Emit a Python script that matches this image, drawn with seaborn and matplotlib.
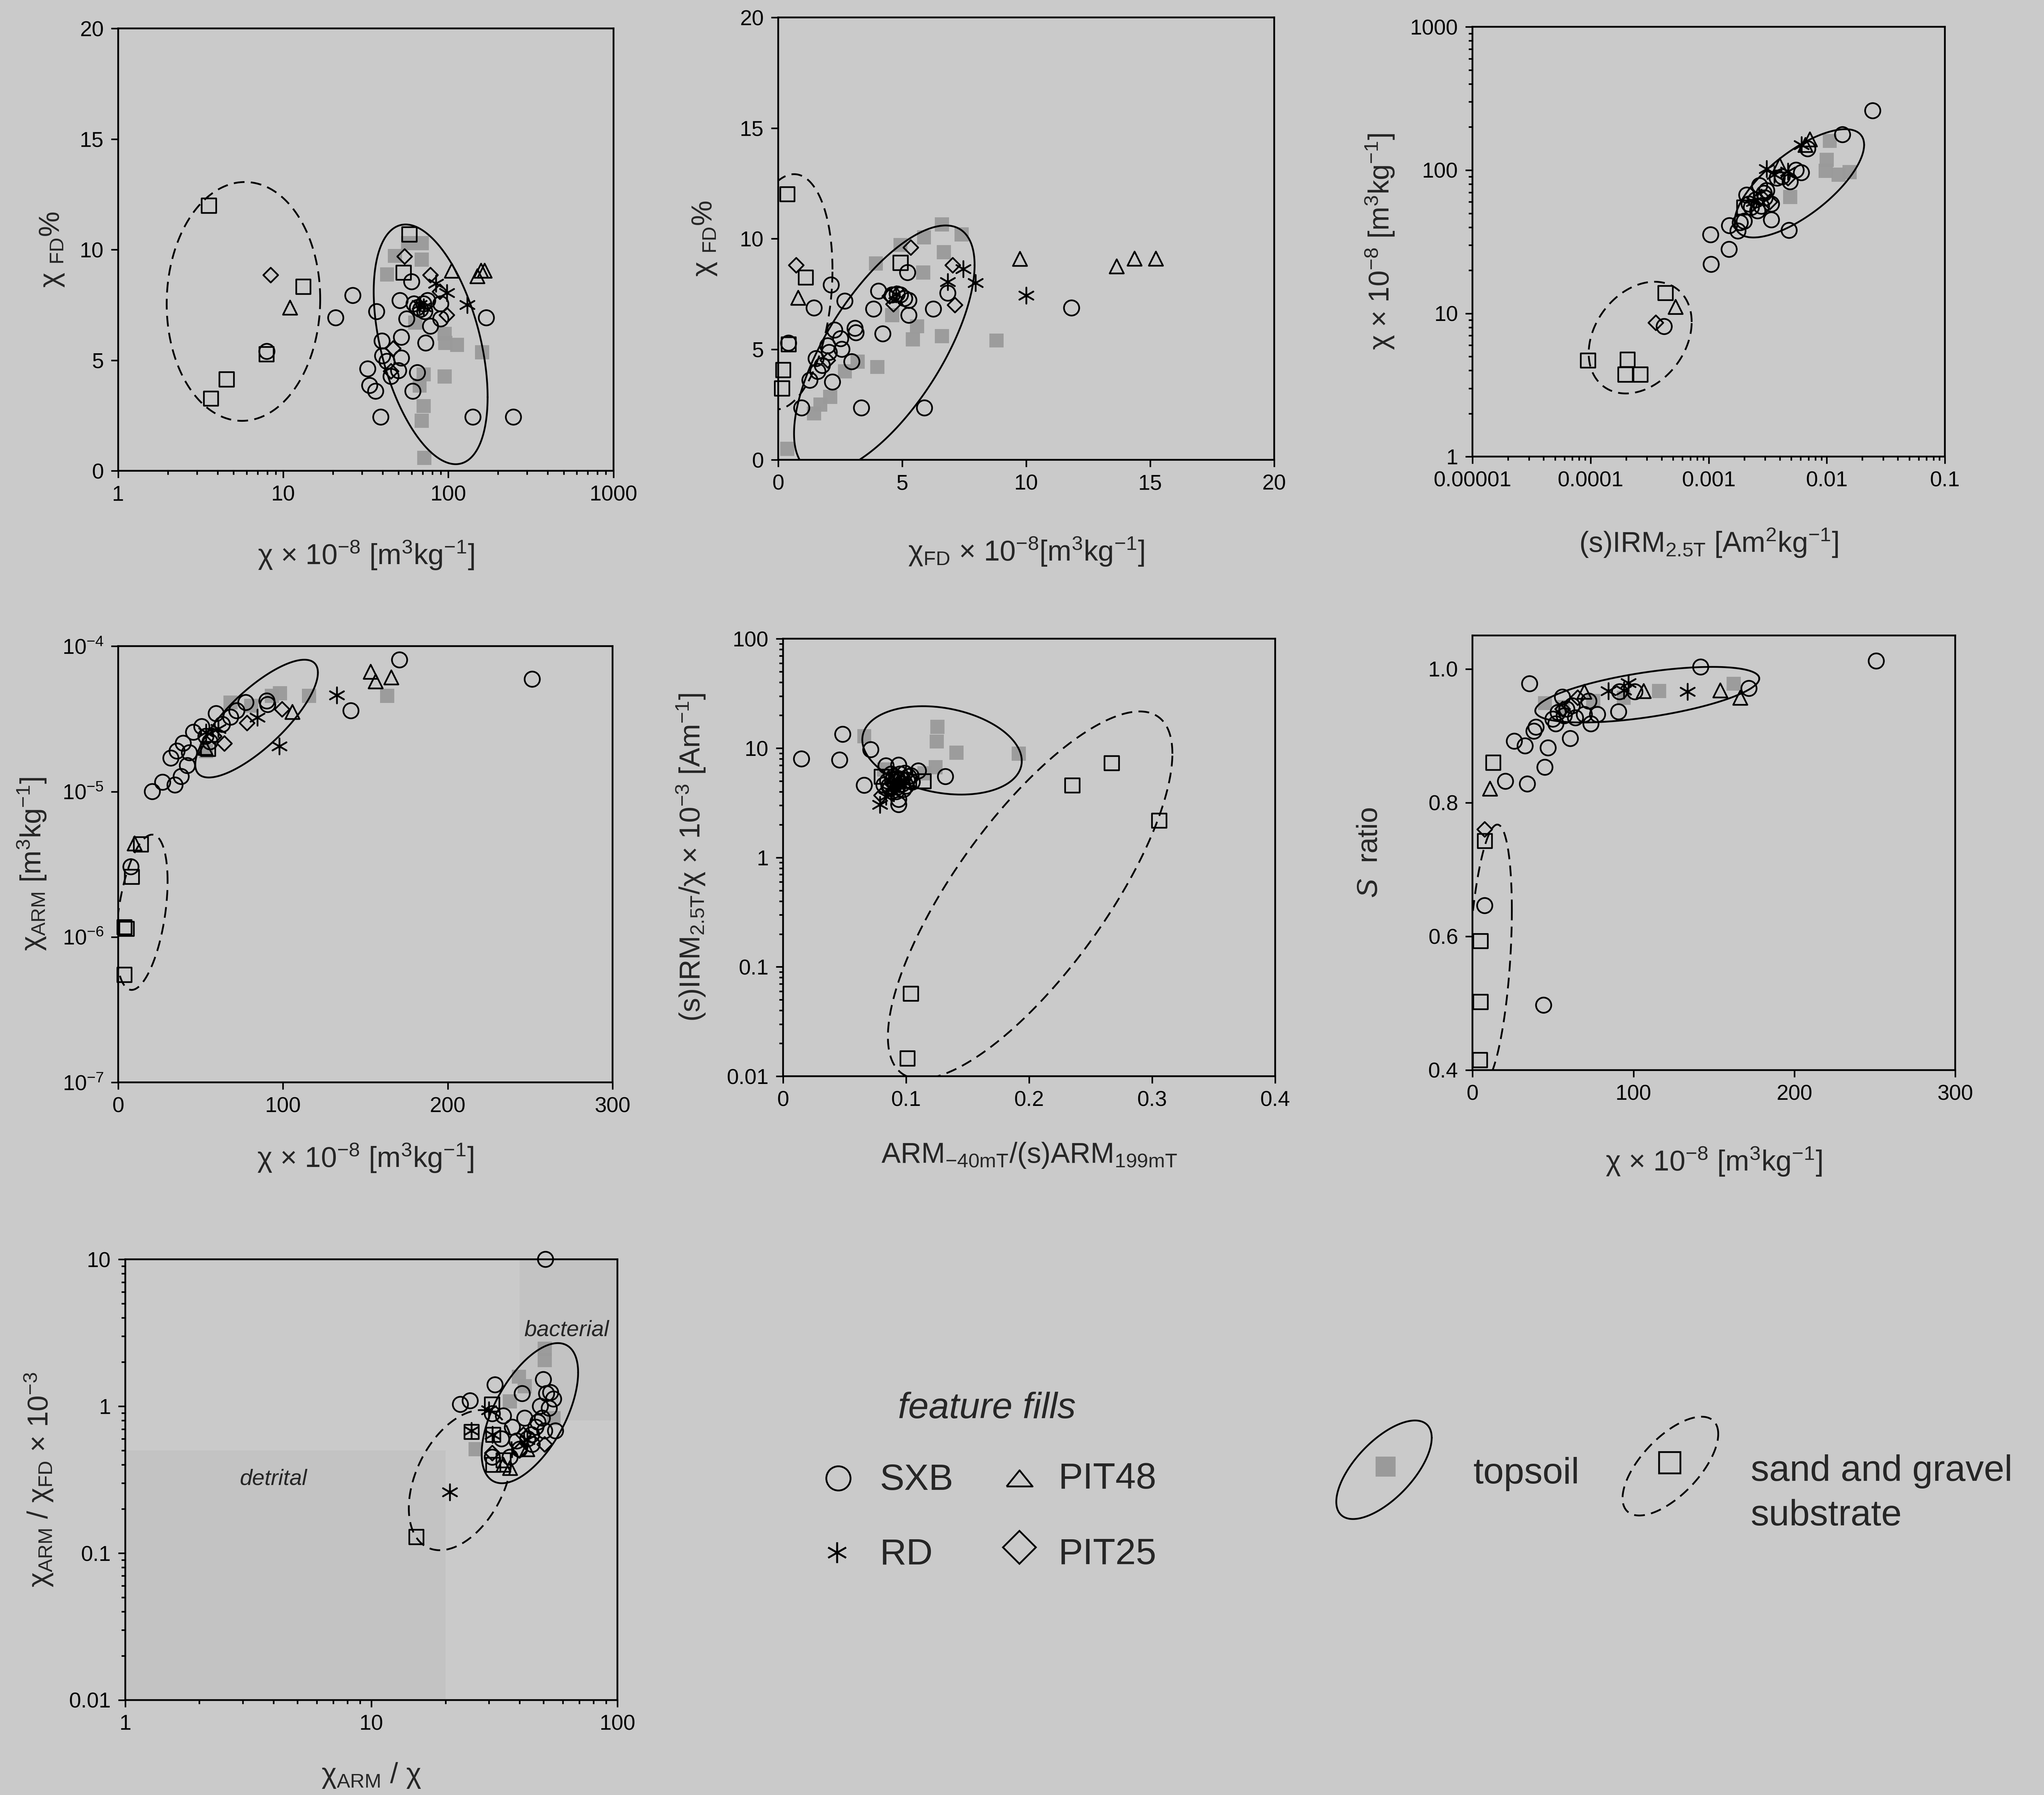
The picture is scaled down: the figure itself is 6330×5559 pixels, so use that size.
import numpy as np
import pandas as pd
import matplotlib
matplotlib.use('Agg')
import matplotlib.pyplot as plt
import matplotlib.ticker as mticker
from matplotlib.path import Path
import seaborn as sns

sns.set_style('ticks')
plt.rcParams['font.family'] = ['Liberation Sans', 'DejaVu Sans']
plt.rcParams['mathtext.fontset'] = 'custom'
plt.rcParams['mathtext.rm'] = 'Liberation Sans'
plt.rcParams['mathtext.it'] = 'Liberation Sans:italic'
plt.rcParams['mathtext.bf'] = 'Liberation Sans:bold'

BG = '#cacaca'
SHADE = '#c3c3c3'
GREY = '#9a9a9a'

# ---- data: (x, y) per sample group and panel ----
# panel 1: chi vs chiFD%
P1_SXB = [(7.96, 5.4), (20.8, 6.92), (26.4, 7.93), (36.8, 7.2), (32.5, 4.61), (33.4, 3.86), (36.3, 3.6),
          (39.0, 2.43), (39.7, 5.87), (40, 5.2), (42.5, 4.95), (45, 4.27), (50, 4.53), (52, 6.04), (52, 5.1),
          (51, 7.7), (56, 6.87), (60, 8.55), (61, 3.6), (65, 4.44), (65, 7.38), (73, 5.78), (78, 6.54),
          (90, 7.55), (90, 6.87), (141, 2.43), (170, 6.92), (248, 2.43), (62, 7.55), (71, 7.55), (75, 7.7),
          (68, 7.3), (72, 7.2)]
P1_RD = [(130, 7.5), (98, 8.05), (84, 8.47), (67, 7.5), (71, 7.4)]
P1_PIT48 = [(11.0, 7.38), (105, 9.05), (150, 8.8), (158, 9.05), (166, 9.05)]
P1_PIT25 = [(8.4, 8.85), (54.4, 9.69), (78, 8.85), (98, 7.04), (46.4, 5.53), (45, 4.5), (89, 8.1)]
P1_SAND = [(3.54, 12.0), (13.2, 8.33), (7.9, 5.28), (4.53, 4.14), (3.64, 3.27), (53.5, 8.97), (58, 10.7)]
P1_TOP = [(71.5, 0.59), (69, 2.26), (71, 2.93), (67, 3.86), (71, 4.36), (95, 4.27), (96, 5.78), (113, 5.7),
          (160, 5.36), (95, 6.2), (57, 10.3), (69, 10.3), (69, 9.55), (42.5, 8.88), (47.5, 9.72), (63, 6.7)]

# panel 2: chiFD vs chiFD%
P2_SXB = [(0.42, 5.28), (2.14, 7.91), (1.45, 6.87), (2.69, 7.18), (3.85, 6.82), (4.05, 7.63), (0.95, 2.35),
          (1.28, 3.6), (1.53, 4.58), (1.6, 4.0), (2.0, 5.16), (2.06, 4.86), (2.19, 3.52), (2.28, 5.87),
          (2.52, 5.48), (2.57, 5.0), (2.97, 4.44), (3.1, 5.95), (3.14, 5.75), (3.36, 2.35), (4.22, 5.7),
          (4.6, 7.46), (4.93, 7.46), (5.22, 8.47), (5.27, 6.54), (5.27, 7.21), (6.26, 6.82), (6.84, 7.54),
          (5.9, 2.35), (11.83, 6.87), (1.78, 4.27), (4.8, 7.5), (5.1, 7.3)]
P2_RD = [(10.0, 7.43), (7.96, 8.0), (7.46, 8.63), (6.84, 8.05), (4.75, 7.5)]
P2_PIT48 = [(0.81, 7.33), (9.75, 9.09), (13.65, 8.75), (14.37, 9.1), (15.23, 9.1)]
P2_PIT25 = [(0.73, 8.8), (5.35, 9.6), (7.04, 8.8), (7.13, 7.0), (4.65, 7.04), (2.0, 4.5), (4.5, 7.4)]
P2_SAND = [(0.37, 12.02), (1.11, 8.25), (0.42, 5.23), (0.2, 4.07), (0.15, 3.24), (4.93, 8.92)]
P2_TOP = [(0.37, 0.5), (1.45, 2.1), (1.7, 2.5), (2.1, 2.85), (2.69, 4.0), (3.2, 4.44), (4.0, 4.2), (3.94, 8.88),
          (5.43, 5.45), (5.6, 6.04), (6.6, 5.6), (5.85, 8.47), (5.88, 10.06), (6.6, 10.65), (6.68, 9.39),
          (7.4, 10.2), (8.8, 5.4), (4.93, 9.72), (4.6, 6.54)]

# panel 3: (s)IRM vs chi
P3_SXB = [(4.2e-4, 8.1), (1.04e-3, 35.4), (1.49e-3, 28), (1.05e-3, 22), (1.5e-3, 41), (1.77e-3, 37.6),
          (2.1e-3, 67), (3.4e-3, 45), (4.8e-3, 38), (1.36e-2, 177), (2.45e-2, 260), (6.1e-3, 96), (4.9e-3, 83),
          (3.8e-3, 88), (2.95e-3, 69), (2.5e-3, 62), (3.4e-3, 58), (6.9e-3, 141), (2.7e-3, 78), (2.3e-3, 55),
          (1.85e-3, 43), (2.0e-3, 44), (2.6e-3, 52), (3.1e-3, 72), (4.2e-3, 90), (5.5e-3, 100),
          (2.2e-3, 58), (2.8e-3, 56), (3.0e-3, 64)]
P3_RD = [(3.1e-3, 102), (6.1e-3, 150), (3.6e-3, 93), (4.7e-3, 98), (2.4e-3, 60)]
P3_PIT48 = [(5.25e-4, 11.1), (7.2e-3, 164), (6.6e-3, 150), (4.0e-3, 108)]
P3_PIT25 = [(3.57e-4, 8.6), (4.7e-3, 88), (2.8e-3, 65), (3.3e-3, 60)]
P3_SAND = [(9.5e-5, 4.7), (2.05e-4, 4.76), (1.97e-4, 3.75), (2.64e-4, 3.75), (4.3e-4, 13.9), (2.0e-3, 55)]
P3_TOP = [(1.06e-2, 160), (9.8e-3, 99), (1.56e-2, 97), (1.0e-2, 118), (4.9e-3, 65), (1.26e-2, 93)]

# panel 4: chi vs chiARM
P4_SXB = [(7.75, 3.04e-6), (20.75, 1.0e-5), (27, 1.16e-5), (34.5, 1.11e-5), (38.25, 1.27e-5), (42, 1.51e-5),
          (32, 1.7e-5), (35.75, 1.9e-5), (39.5, 2.15e-5), (45.75, 2.56e-5), (50.75, 2.8e-5), (59.5, 3.44e-5),
          (68.25, 3.25e-5), (72, 3.6e-5), (77.5, 4.1e-5), (90.25, 4.2e-5), (90.75, 3.97e-5), (141.25, 3.6e-5),
          (170.75, 8.05e-5), (251.25, 5.93e-5), (53.25, 2.4e-5), (63.25, 2.9e-5), (43.25, 1.85e-5),
          (55.75, 2.2e-5)]
P4_RD = [(97.75, 2.05e-5), (132.75, 4.6e-5), (84.5, 3.24e-5), (60.75, 2.7e-5), (53.25, 2.55e-5)]
P4_PIT48 = [(10, 4.4e-6), (105.75, 3.53e-5), (153.25, 6.67e-5), (156.25, 5.73e-5), (165.75, 6.1e-5),
            (53, 2.0e-5)]
P4_PIT25 = [(64.5, 2.14e-5), (99.5, 3.68e-5), (78.25, 2.96e-5), (58.25, 2.4e-5)]
P4_SAND = [(3.75, 5.5e-7), (3.75, 1.17e-6), (5, 1.14e-6), (8.25, 2.6e-6), (13.75, 4.35e-6), (54.5, 1.97e-5)]
P4_TOP = [(163.25, 4.55e-5), (115.75, 4.55e-5), (98.25, 4.75e-5), (93.25, 4.55e-5), (68.25, 4.1e-5),
          (53.25, 1.9e-5), (80.75, 3.9e-5)]

# panel 5: ARM ratio vs (s)IRM/chi
P5_SXB = [(0.015, 7.98), (0.046, 7.8), (0.0485, 13.4), (0.0713, 9.7), (0.066, 4.58), (0.132, 5.5),
          (0.0837, 6.9), (0.094, 7.0), (0.11, 6.2), (0.094, 3.05), (0.094, 3.4), (0.087, 4.3), (0.097, 4.7),
          (0.102, 5.5), (0.090, 5.5), (0.085, 5.0), (0.092, 4.0), (0.1, 4.5), (0.088, 5.8), (0.096, 5.2),
          (0.082, 4.6), (0.105, 4.9), (0.091, 4.9), (0.093, 5.3), (0.098, 4.2), (0.086, 4.5), (0.095, 5.8),
          (0.101, 5.1), (0.089, 5.1), (0.099, 5.9), (0.093, 4.4), (0.104, 5.6)]
P5_RD = [(0.0787, 3.05), (0.0837, 3.6), (0.0887, 4.3), (0.095, 4.8), (0.09, 3.9), (0.092, 4.6)]
P5_PIT48 = [(0.092, 5.1), (0.102, 5.0)]
P5_PIT25 = [(0.08, 3.7), (0.089, 4.7)]
P5_SAND = [(0.267, 7.32), (0.235, 4.58), (0.3056, 2.18), (0.1038, 0.057), (0.101, 0.0146), (0.080, 5.5),
           (0.114, 5.0)]
P5_TOP = [(0.066, 12.9), (0.1255, 15.7), (0.125, 11.5), (0.141, 9.1), (0.1915, 8.9), (0.124, 6.7),
          (0.082, 6.4), (0.115, 5.9)]

# panel 6: chi vs S ratio
P6_SXB = [(7.6, 0.646), (44.2, 0.497), (35.5, 0.978), (141.8, 1.003), (250.9, 1.012), (20.5, 0.832),
          (34.1, 0.828), (45, 0.853), (26, 0.892), (32.7, 0.885), (47, 0.882), (38.2, 0.907), (39.5, 0.913),
          (51.8, 0.918), (60.8, 0.896), (73.6, 0.918), (77.7, 0.932), (90.8, 0.936), (171.8, 0.971),
          (55.9, 0.958), (72.3, 0.952), (58.6, 0.94), (64, 0.927), (53.2, 0.935), (69.5, 0.932),
          (91.4, 0.966), (100.9, 0.966), (50, 0.925), (62, 0.945), (57, 0.93)]
P6_RD = [(133.6, 0.966), (84.5, 0.967), (96.8, 0.979), (94, 0.968)]
P6_PIT48 = [(10.9, 0.821), (106.4, 0.967), (154, 0.968), (166.4, 0.957), (69.5, 0.966)]
P6_PIT25 = [(7.6, 0.76), (65.4, 0.957), (56, 0.94)]
P6_SAND = [(4.6, 0.415), (4.9, 0.502), (4.9, 0.593), (7.6, 0.743), (12.8, 0.86)]
P6_TOP = [(115.9, 0.967), (162.3, 0.978), (45, 0.949), (94, 0.957), (75, 0.952), (56, 0.943)]

# panel 7: chiARM/chi vs chiARM/chiFD
P7_SXB = [(51, 10.0), (23, 1.03), (25.2, 1.09), (31.8, 1.40), (41, 1.22), (50, 1.52), (51.5, 1.22),
          (53.5, 1.24), (55, 1.12), (31, 0.89), (34.4, 0.86), (42, 0.83), (49.5, 0.83), (50.6, 0.68),
          (44.8, 0.64), (37.4, 0.72), (48.6, 1.0), (52.8, 0.97), (56, 0.68), (33.8, 0.6), (36.6, 0.45),
          (31, 0.45), (40, 0.51), (43.2, 0.6), (46.6, 0.72), (45, 0.55), (47.5, 0.78), (39, 0.58)]
P7_RD = [(20.8, 0.26), (25.5, 0.68), (31, 0.64), (30, 0.94), (43, 0.59)]
P7_PIT48 = [(34.4, 0.4), (36.6, 0.38), (43, 0.51)]
P7_PIT25 = [(50.6, 0.55), (31, 0.48), (40, 0.5), (41.5, 0.64)]
P7_SAND = [(15.2, 0.129), (25.5, 0.67), (30.9, 1.03), (31.2, 0.64), (31.2, 0.4), (34.4, 0.43)]
P7_TOP = [(50.6, 2.46), (50.6, 2.06), (39.8, 1.59), (42, 1.37), (55, 0.83), (26.5, 0.51), (36.5, 1.08)]

DETRITAL = (1, 20, 0.01, 0.5)      # x0, x1, y0, y1
BACTERIAL = (40, 100, 0.8, 10)

SERIES = {
    1: {'topsoil': P1_TOP, 'sand': P1_SAND, 'SXB': P1_SXB, 'RD': P1_RD, 'PIT48': P1_PIT48, 'PIT25': P1_PIT25},
    2: {'topsoil': P2_TOP, 'sand': P2_SAND, 'SXB': P2_SXB, 'RD': P2_RD, 'PIT48': P2_PIT48, 'PIT25': P2_PIT25},
    3: {'topsoil': P3_TOP, 'sand': P3_SAND, 'SXB': P3_SXB, 'RD': P3_RD, 'PIT48': P3_PIT48, 'PIT25': P3_PIT25},
    4: {'topsoil': P4_TOP, 'sand': P4_SAND, 'SXB': P4_SXB, 'RD': P4_RD, 'PIT48': P4_PIT48, 'PIT25': P4_PIT25},
    5: {'topsoil': P5_TOP, 'sand': P5_SAND, 'SXB': P5_SXB, 'RD': P5_RD, 'PIT48': P5_PIT48, 'PIT25': P5_PIT25},
    6: {'topsoil': P6_TOP, 'sand': P6_SAND, 'SXB': P6_SXB, 'RD': P6_RD, 'PIT48': P6_PIT48, 'PIT25': P6_PIT25},
    7: {'topsoil': P7_TOP, 'sand': P7_SAND, 'SXB': P7_SXB, 'RD': P7_RD, 'PIT48': P7_PIT48, 'PIT25': P7_PIT25},
}

frames = []
for pid, groups in SERIES.items():
    for grp, pts in groups.items():
        arr = np.asarray(pts, dtype=float)
        frames.append(pd.DataFrame({'panel': pid, 'group': grp, 'x': arr[:, 0], 'y': arr[:, 1]}))
df = pd.concat(frames, ignore_index=True)

LW = 0.95
STYLE = {
    'topsoil': dict(marker='s', s=62, color=GREY, edgecolor='none', linewidth=0, alpha=0.95),
    'sand': dict(marker='s', s=64, facecolor='none', edgecolor='k', linewidth=LW),
    'SXB': dict(marker='o', s=72, facecolor='none', edgecolor='k', linewidth=LW),
    'RD': dict(marker=(6, 2, 0), s=80, color='k', linewidth=LW),
    'PIT48': dict(marker='^', s=62, facecolor='none', edgecolor='k', linewidth=LW),
    'PIT25': dict(marker='D', s=34, facecolor='none', edgecolor='k', linewidth=LW),
}

CHI = 'χ × 10$^{-8}$ [m$^{3}$kg$^{-1}$]'
CHIFD_PCT = 'χ $_{\\mathrm{FD}}$%'

AXES = {
    1: dict(rect=[0.0578, 0.7377, 0.2423, 0.2464], xs='log', ys='linear', xlim=(1, 1000), ylim=(0, 20),
            xt=[1, 10, 100, 1000], yt=[0, 5, 10, 15, 20], xl=CHI, yl=CHIFD_PCT, xp=19, yp=8),
    2: dict(rect=[0.3807, 0.7438, 0.2427, 0.2464], xs='linear', ys='linear', xlim=(0, 20), ylim=(0, 20),
            xt=[0, 5, 10, 15, 20], yt=[0, 5, 10, 15, 20],
            xl='χ$_{\\mathrm{FD}}$ × 10$^{-8}$[m$^{3}$kg$^{-1}$]', yl=CHIFD_PCT, xp=23, yp=12),
    3: dict(rect=[0.7204, 0.7456, 0.2311, 0.2394], xs='log', ys='log', xlim=(1e-5, 0.1), ylim=(1, 1000),
            xt=[1e-5, 1e-4, 1e-3, 1e-2, 1e-1], yt=[1, 10, 100, 1000],
            xl='(s)IRM$_{\\mathrm{2.5T}}$ [Am$^{2}$kg$^{-1}$]', yl=CHI, xp=20, yp=8),
    4: dict(rect=[0.0578, 0.3970, 0.2419, 0.2430], xs='linear', ys='log', xlim=(0, 300), ylim=(1e-7, 1e-4),
            xt=[0, 100, 200, 300], yt=[1e-7, 1e-6, 1e-5, 1e-4], xl=CHI,
            yl='χ$_{\\mathrm{ARM}}$ [m$^{3}$kg$^{-1}$]', xp=14, yp=8),
    5: dict(rect=[0.3831, 0.4004, 0.2408, 0.2437], xs='linear', ys='log', xlim=(0, 0.4), ylim=(0.01, 100),
            xt=[0, 0.1, 0.2, 0.3, 0.4], yt=[0.01, 0.1, 1, 10, 100],
            xl='ARM$_{\\mathrm{-40mT}}$/(s)ARM$_{\\mathrm{199mT}}$',
            yl='(s)IRM$_{\\mathrm{2.5T}}$/χ × 10$^{-3}$ [Am$^{-1}$]', xp=17, yp=11),
    6: dict(rect=[0.7204, 0.4039, 0.2362, 0.2420], xs='linear', ys='linear', xlim=(0, 300), ylim=(0.4, 1.05),
            xt=[0, 100, 200, 300], yt=[0.4, 0.6, 0.8, 1.0], xl=CHI, yl='$\\mathit{S}$  ratio', xp=23, yp=25),
    7: dict(rect=[0.0613, 0.0529, 0.2408, 0.2455], xs='log', ys='log', xlim=(1, 100), ylim=(0.01, 10),
            xt=[1, 10, 100], yt=[0.01, 0.1, 1, 10], xl='χ$_{\\mathrm{ARM}}$ / χ',
            yl='χ$_{\\mathrm{ARM}}$ / χ$_{\\mathrm{FD}}$ × 10$^{-3}$', xp=15, yp=8),
}

# group outlines in axes fraction: cx, cy, half-width, half-height, tilt, style
RINGS = {
    1: [(0.253, 0.383, 0.155, 0.270, 0.02, 'dash'), (0.631, 0.286, 0.115, 0.271, -0.44, 'solid')],
    2: [(0.014, 0.380, 0.0955, 0.266, 0.19, 'dash'), (0.214, 0.250, 0.182, 0.280, 0.68, 'solid')],
    3: [(0.355, 0.277, 0.109, 0.130, 0.28, 'dash'), (0.692, 0.636, 0.137, 0.126, 0.71, 'solid')],
    4: [(0.048, 0.390, 0.052, 0.178, 0.40, 'dash'), (0.280, 0.834, 0.124, 0.135, 0.78, 'solid')],
    5: [(0.502, 0.414, 0.289, 0.420, 0.77, 'dash'), (0.323, 0.745, 0.162, 0.101, -0.24, 'solid')],
    6: [(0.036, 0.266, 0.0455, 0.299, 0.34, 'dash'), (0.362, 0.864, 0.232, 0.064, 0.58, 'solid')],
    7: [(0.681, 0.499, 0.105, 0.159, 0.40, 'dash'), (0.822, 0.651, 0.098, 0.159, 0.58, 'solid')],
}
DASH = (0, (6, 3.5))


def ring(ax, cx, cy, hx, hy, rho, style, transform, clip=True):
    t = np.linspace(0, 2 * np.pi, 400)
    d = np.arccos(rho)
    ls = DASH if style == 'dash' else '-'
    ax.plot(cx + hx * np.cos(t), cy + hy * np.cos(t - d), color='k', lw=1.0, ls=ls,
            transform=transform, clip_on=clip, zorder=4)


plain = mticker.FuncFormatter(lambda v, p: np.format_float_positional(v, trim='-'))

fig = plt.figure(figsize=(15.825, 13.8975), dpi=400, facecolor=BG)

for pid, cfg in AXES.items():
    ax = fig.add_axes(cfg['rect'])
    ax.set_facecolor(BG)
    ax.set_xscale(cfg['xs'])
    ax.set_yscale(cfg['ys'])

    if pid == 7:
        for x0, x1, y0, y1 in (DETRITAL, BACTERIAL):
            ax.fill_between([x0, x1], y0, y1, color=SHADE, lw=0, zorder=0)
        ax.text(4.0, 0.32, 'detrital', style='italic', fontsize=12.5, ha='center', va='center')
        ax.text(62, 3.3, 'bacterial', style='italic', fontsize=12.5, ha='center', va='center')

    sub = df[df['panel'] == pid]
    for grp in ['topsoil', 'SXB', 'PIT25', 'PIT48', 'RD', 'sand']:
        g = sub[sub['group'] == grp]
        sns.scatterplot(data=g, x='x', y='y', ax=ax, legend=False, clip_on=False, zorder=3, **STYLE[grp])

    for r in RINGS[pid]:
        ring(ax, *r, transform=ax.transAxes)

    ax.set_xlim(*cfg['xlim'])
    ax.set_ylim(*cfg['ylim'])
    ax.set_xticks(cfg['xt'])
    ax.set_yticks(cfg['yt'])
    ax.xaxis.set_minor_formatter(mticker.NullFormatter())
    ax.yaxis.set_minor_formatter(mticker.NullFormatter())
    if cfg['xs'] == 'log':
        ax.xaxis.set_major_formatter(plain)
    else:
        ax.xaxis.set_major_formatter(mticker.FuncFormatter(lambda v, p: f'{v:g}'))
    if cfg['ys'] == 'log':
        if pid == 4:
            ax.yaxis.set_minor_locator(mticker.NullLocator())
        else:
            ax.yaxis.set_major_formatter(plain)
    elif pid == 6:
        ax.yaxis.set_major_formatter(mticker.FormatStrFormatter('%.1f'))

    ax.tick_params(which='both', direction='out', top=False, right=False, width=0.9, colors='k')
    ax.tick_params(which='major', length=4, labelsize=12, pad=4)
    ax.tick_params(which='minor', length=2.2)
    for sp in ax.spines.values():
        sp.set_linewidth(1.0)
        sp.set_color('k')
    ax.set_xlabel(cfg['xl'], fontsize=16, labelpad=cfg['xp'])
    ax.set_ylabel(cfg['yl'], fontsize=16, labelpad=cfg['yp'])

# ---- legend block (positions in reference pixel units) ----
W, H = 1568.0, 1377.0
lax = fig.add_axes([0, 0, 1, 1])
lax.set_xlim(0, 1)
lax.set_ylim(0, 1)
lax.axis('off')


def fp(x, y):
    return x / W, 1 - y / H


FS = 20.5
flat_tri = Path([(-1, -0.62), (1, -0.62), (0, 0.62), (-1, -0.62)])
lax.text(*fp(757, 1088), 'feature fills', style='italic', fontsize=FS, ha='center', va='baseline')
lax.plot(*fp(643, 1134), marker='o', ms=13.5, mfc='none', mec='k', mew=1.0)
lax.text(*fp(675, 1143), 'SXB', fontsize=FS, va='baseline')
lax.plot(*fp(782, 1134), marker=flat_tri, ms=14.5, mfc='none', mec='k', mew=1.0)
lax.text(*fp(812, 1142), 'PIT48', fontsize=FS, va='baseline')
lax.plot(*fp(642, 1191), marker=(6, 2, 0), ms=11.5, mec='k', mew=1.0)
lax.text(*fp(675, 1200), 'RD', fontsize=FS, va='baseline')
lax.plot(*fp(782, 1187), marker='D', ms=13, mfc='none', mec='k', mew=1.0)
lax.text(*fp(812, 1200), 'PIT25', fontsize=FS, va='baseline')

ring(lax, *fp(1061.7, 1127.5), 36.6 / W, 37.8 / H, 0.65, 'solid', lax.transAxes, clip=False)
lax.plot(*fp(1063, 1125), marker='s', ms=11, mfc=GREY, mec='none')
lax.text(*fp(1130, 1138), 'topsoil', fontsize=FS, va='baseline')
ring(lax, *fp(1281.4, 1124.7), 36.7 / W, 37.9 / H, 0.65, 'dash', lax.transAxes, clip=False)
lax.plot(*fp(1281, 1122), marker='s', ms=12, mfc='none', mec='k', mew=1.0)
lax.text(*fp(1343, 1136), 'sand and gravel', fontsize=FS, va='baseline')
lax.text(*fp(1343, 1170), 'substrate', fontsize=FS, va='baseline')

fig.savefig('out.png', dpi=400, facecolor=BG)
